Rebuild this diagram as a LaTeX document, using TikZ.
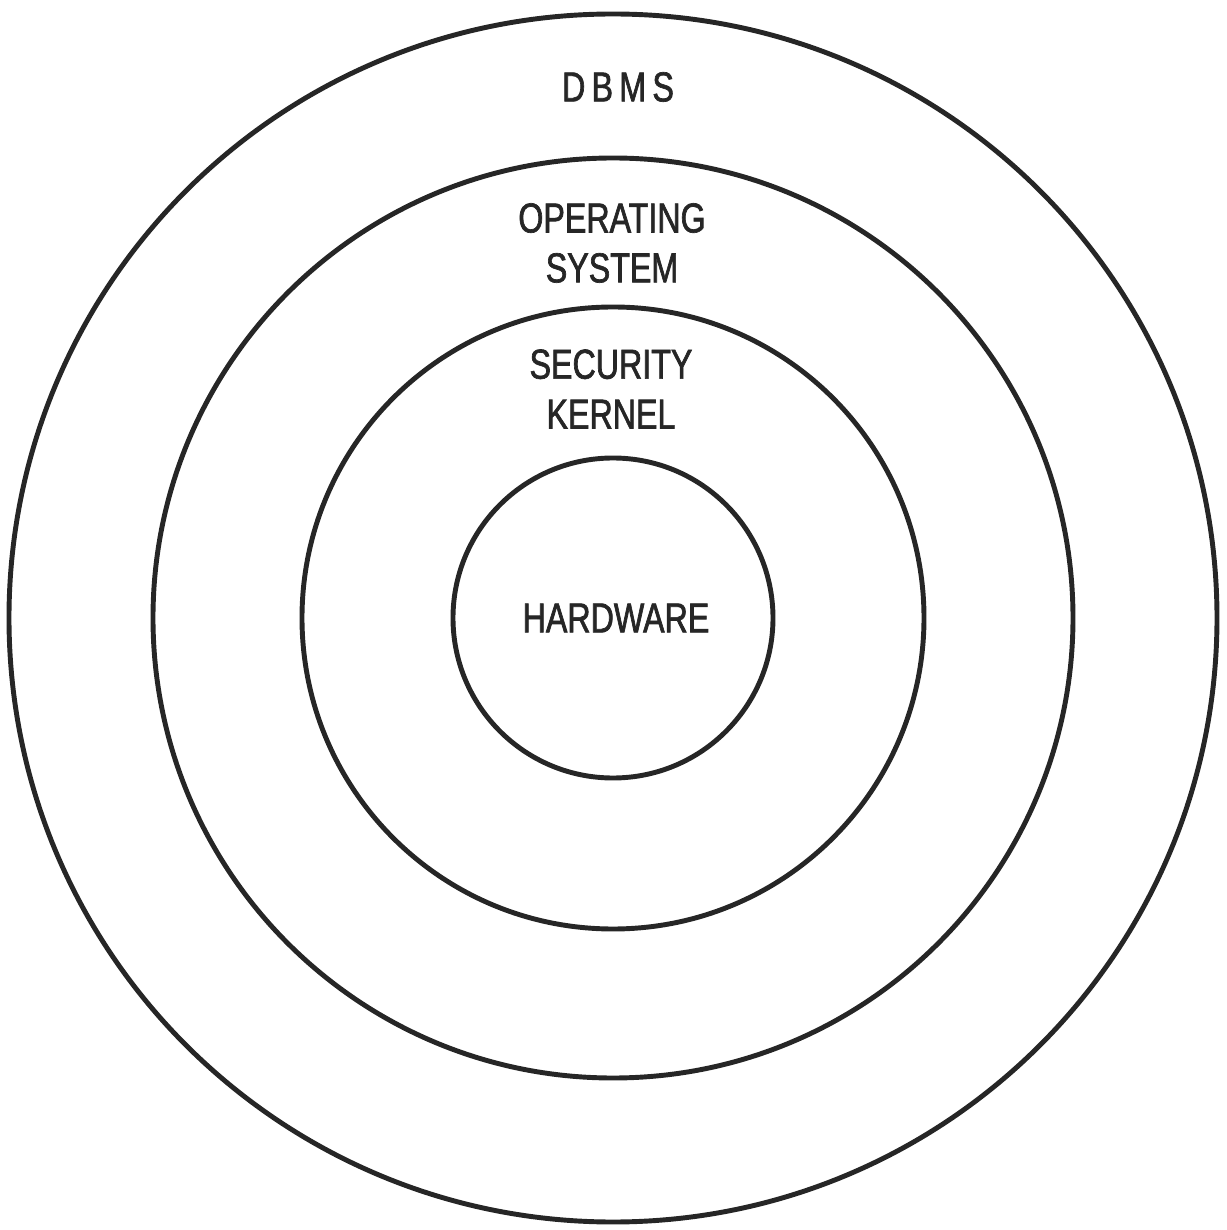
\documentclass[tikz,border=0pt]{standalone}
\usepackage{fontspec}
\newfontfamily\layerfont[FakeStretch=0.77,FakeBold=1.6]{Liberation Sans}
\usetikzlibrary{positioning}

\tikzset{ring/.style={line width=1.4pt, black!85},
         layer/.style={font=\layerfont\fontsize{11.9}{14.2}\selectfont, align=center, inner sep=0pt, black!85}}

\begin{document}
\begin{tikzpicture}
    \useasboundingbox (-6.13,-6.12) rectangle (6.13,6.18);

    \coordinate (c) at (0,0);
    \draw[ring] (c) circle (6.04);
    \draw[ring] (c) circle (4.60);
    \draw[ring] (c) circle (3.11);
    \draw[ring] (c) circle (1.60);

    \node[layer] (dbms) at (0.05,5.31) {\addfontfeature{LetterSpace=15}DBMS};
    \node[layer] (os) at (-0.01,3.75) {OPERATING\\SYSTEM};
    \node[layer] (kernel) at (-0.02,2.29) {SECURITY\\KERNEL};
    \node[layer] (hw) at (0.03,0) {HARDWARE};

\end{tikzpicture}
\end{document}
